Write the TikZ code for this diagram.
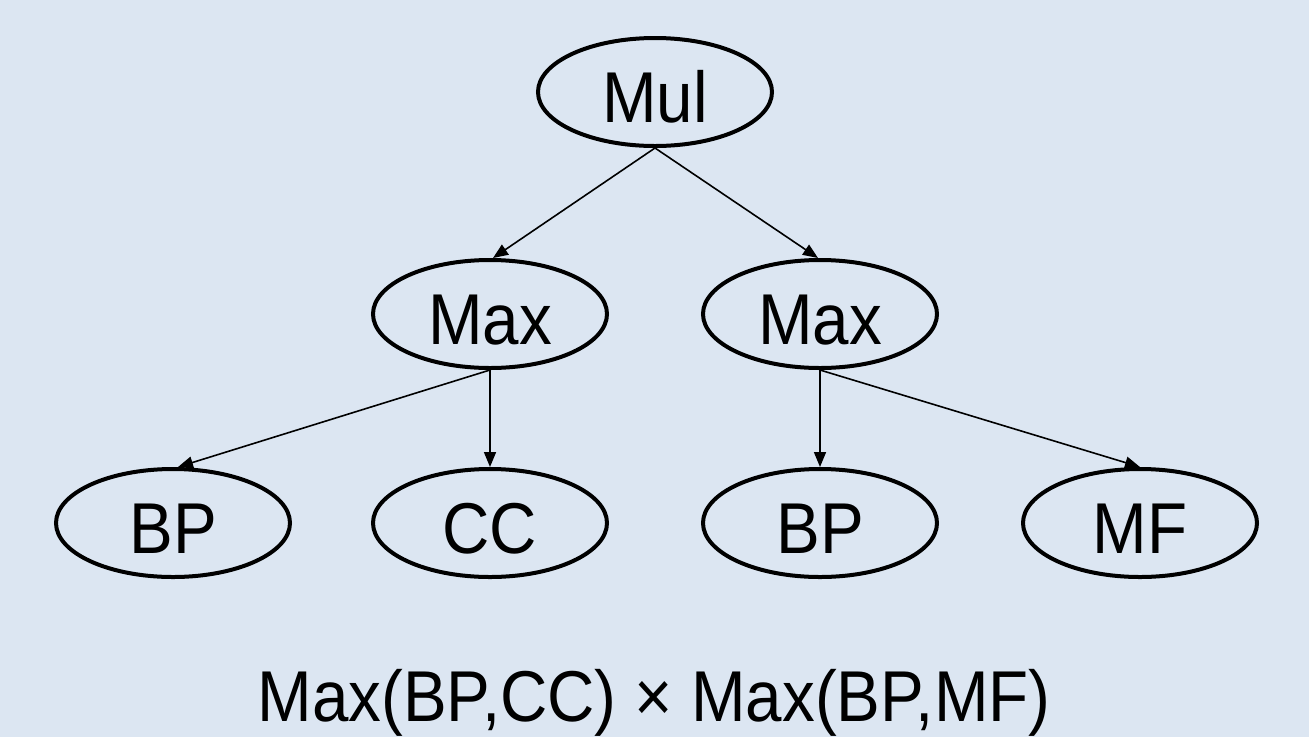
\documentclass[tikz,border=0pt]{standalone}
\usepackage{fontspec}
\setmainfont{Liberation Sans}[FakeStretch=0.91]
\usetikzlibrary{shapes.geometric,arrows.meta}
\definecolor{bg}{HTML}{DCE6F2}
\begin{document}
\begin{tikzpicture}[x=1pt,y=-1pt,
  op/.style={ellipse,draw=black,line width=4pt,minimum width=234pt,minimum height=108pt,inner sep=0pt,
     font=\fontsize{72}{80}\selectfont,text height=60pt,text depth=0pt},
  arr/.style={line width=1.6pt,-{Triangle[length=15pt,width=12pt]}}]
\fill[bg] (0,0) rectangle (1309,737);
\useasboundingbox (0,0) rectangle (1309,737);
\node[op] (mul) at (655,92) {Mul};
\node[op] (maxl) at (490,314) {Max};
\node[op] (maxr) at (820,314) {Max};
\node[op] (bp1) at (173,523) {BP};
\node[op] (cc) at (490,523) {CC};
\node[op] (bp2) at (820,523) {BP};
\node[op] (mf) at (1140,523) {MF};
\draw[arr] (mul.south) -- ([xshift=3pt]maxl.north);
\draw[arr] (mul.south) -- ([xshift=-2pt]maxr.north);
\draw[arr] (maxl.south) -- ([xshift=5pt]bp1.north);
\draw[arr] (maxl.south) -- (cc.north);
\draw[arr] (maxr.south) -- (bp2.north);
\draw[arr] (maxr.south) -- (mf.north);
\node[font=\fontsize{72}{80}\selectfont,inner sep=0pt,anchor=base] (formula) at (654,721) {Max(BP,CC) × Max(BP,MF)};
\end{tikzpicture}
\end{document}
